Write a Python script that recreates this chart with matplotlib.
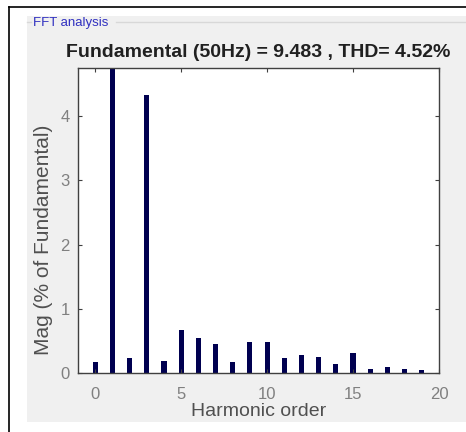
import matplotlib
matplotlib.use("Agg")
import matplotlib.pyplot as plt
from matplotlib.patches import Rectangle
from matplotlib.lines import Line2D

# harmonic order and magnitude (% of fundamental)
harmonics = list(range(0, 20))
magnitude = [0.17, 100.0, 0.23, 4.33, 0.19, 0.67, 0.54, 0.45, 0.17, 0.48,
             0.48, 0.23, 0.28, 0.25, 0.14, 0.31, 0.07, 0.09, 0.07, 0.04]
x_ticks = [0, 5, 10, 15, 20]
y_ticks = [0, 1, 2, 3, 4]

title = "Fundamental (50Hz) = 9.483 , THD= 4.52%"
panel_title = "FFT analysis"

plt.rcParams['font.family'] = ['Liberation Sans', 'DejaVu Sans']

W, H = 466, 432
fig = plt.figure(figsize=(W / 100, H / 100), dpi=100)
fig.patch.set_facecolor("white")

# gray panel + outer black frame
fig.patches.append(Rectangle((27 / W, 1 - 422 / H), 1 - 27 / W, (422 - 16) / H,
                             transform=fig.transFigure, facecolor="#f0f0f0",
                             edgecolor="none", zorder=-10))
fig.lines.append(Line2D([9 / W, 1], [1 - 7 / H, 1 - 7 / H], transform=fig.transFigure,
                        color="black", lw=1.2))
fig.lines.append(Line2D([9 / W, 9 / W], [0, 1 - 7 / H], transform=fig.transFigure,
                        color="black", lw=1.2))
# group box line
fig.lines.append(Line2D([27 / W, 31 / W], [1 - 22 / H, 1 - 22 / H], transform=fig.transFigure,
                        color="#d8d8d8", lw=1))
fig.lines.append(Line2D([116 / W, 1], [1 - 22 / H, 1 - 22 / H], transform=fig.transFigure,
                        color="#d8d8d8", lw=1))
fig.text(33 / W, 1 - 23 / H, panel_title, color="#3030c0", fontsize=9.5, va="center", ha="left")

ax = fig.add_axes([78 / W, 1 - 373 / H, 361 / W, 305 / H], zorder=5)
ax.bar(harmonics, magnitude, width=0.3, color="#000050", edgecolor="none")
ax.set_xlim(-1, 20)
ax.set_ylim(0, 4.75)
ax.set_xticks(x_ticks)
ax.set_yticks(y_ticks)
ax.tick_params(direction="in", top=True, right=True, length=3, colors="#404040",
               labelcolor="#808080", labelsize=12)
ax.tick_params(axis="x", pad=10)
ax.tick_params(axis="y", pad=6)
for s in ax.spines.values():
    s.set_color("#404040")
    s.set_linewidth(1)

ax.set_title(title, fontsize=14, fontweight="bold", color="#202020", pad=8)
ax.set_xlabel("Harmonic order", fontsize=14, color="#505050", labelpad=1)
ax.set_ylabel("Mag (% of Fundamental)", fontsize=15, color="#505050")
ax.yaxis.set_label_coords(-0.068, 0.436)

fig.savefig("out.png", dpi=100, facecolor=fig.get_facecolor())
